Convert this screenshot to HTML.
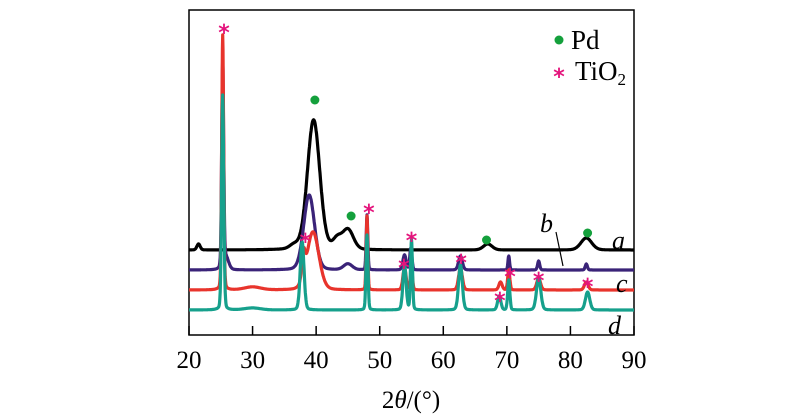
<!DOCTYPE html>
<html><head><meta charset="utf-8"><style>
html,body{margin:0;padding:0;background:#fff;}
svg{display:block;font-family:"Liberation Serif",serif;}
</style></head><body>
<svg id="chart" width="800" height="419" viewBox="0 0 800 419" xmlns="http://www.w3.org/2000/svg">
<g id="plot"></g>
</svg>
<script>
const xTicks=[20,30,40,50,60,70,80,90];
const seriesNames=["a","b","c","d"];
const seriesColors=["#000000","#3a2378","#e8342c","#16a08c"];
const baselines=[0,20,40,60];
// peaks: [position 2θ, height, width]
const peaksA=[[39.6,130,1.15],[45,20,1.0],[43.3,10,0.8],[67,6,0.8],[82.5,12,1.0],[21.5,6,0.3],[36.5,4,0.8]];
const peaksB=[[25.3,205,0.18],[38.9,75,1.0],[48,55,0.15],[54.9,22,0.2],[53.9,15,0.3],[62.7,14,0.35],[70.3,14,0.15],[75,9,0.2],[82.5,6,0.2],[45,6,0.8],[25.8,12,0.5]];
const peaksC=[[25.3,255,0.18],[39.5,58,1.1],[38,25,0.3],[48,74,0.15],[53.9,22,0.3],[55,20,0.2],[62.7,22,0.35],[69,8,0.3],[70.3,20,0.2],[75,12,0.35],[82.5,8,0.35],[30,3,1.5]];
const peaksD=[[25.3,215,0.2],[37.8,68,0.35],[48,75,0.18],[53.9,45,0.3],[55,70,0.18],[62.7,45,0.35],[68.8,14,0.3],[70.3,30,0.2],[75,32,0.4],[82.7,18,0.4],[30,2,1.5]];
const starMarks=[[25.5,28],[38.3,237],[48.3,208],[55,236],[53.8,263],[62.8,258],[70.5,272],[75,276],[82.7,282],[68.9,296]];
const dotMarks=[[39.8,100],[45.5,216],[66.8,240],[82.7,233]];

const L=189,R=634,T=10,B=335;
const x=v=>L+(v-20)/70*(R-L);
const y0=250;
const y=(v,off)=>y0+off-v;
const NS="http://www.w3.org/2000/svg";
const g=document.getElementById('plot');
function mk(tag,attrs){const e=document.createElementNS(NS,tag);for(const k in attrs)e.setAttribute(k,attrs[k]);g.appendChild(e);return e;}

const frame=mk('rect',{x:L,y:T,width:R-L,height:B-T,fill:'none',stroke:'#000','stroke-width':1.5});



xTicks.forEach(t=>{
  const tk=mk('line',{x1:x(t),x2:x(t),y1:B,y2:B-9,stroke:'#000','stroke-width':1.5});
  
  
  const lb=mk('text',{x:x(t),y:368,'text-anchor':'middle','font-size':25});
  lb.textContent=t;
  
  
});

const allPeaks=[peaksA,peaksB,peaksC,peaksD];
allPeaks.forEach((pk,i)=>{
  let d='';
  for(let s=20;s<=90.001;s+=0.05){
    let v=0;pk.forEach(p=>{const u=(s-p[0])/p[2];v+=p[1]*(0.85*Math.exp(-0.69*u*u)+0.15/(1+u*u));});
    d+=(d?'L':'M')+x(s).toFixed(1)+','+y(v,baselines[i]).toFixed(1);
  }
  const path=mk('path',{d:d,fill:'none',stroke:seriesColors[i],'stroke-width':3.2,'stroke-linejoin':'round'});
  
  
});

starMarks.forEach(m=>{
  const s=mk('text',{x:x(m[0]),y:m[1]+12,'text-anchor':'middle','font-size':22,'font-weight':'bold',fill:'#e4147c','font-family':'DejaVu Sans, sans-serif'});
  s.textContent='*';
  
  
});
dotMarks.forEach(m=>{
  const c=mk('circle',{cx:x(m[0]),cy:m[1],r:4.5,fill:'#14a03c'});
  
  
});

const ld=mk('circle',{cx:559,cy:40,r:4.5,fill:'#14a03c'});


const lt=mk('text',{x:571,y:49,'font-size':27});lt.textContent='Pd';


const ls=mk('text',{x:559,y:84,'text-anchor':'middle','font-size':22,'font-weight':'bold',fill:'#e4147c','font-family':'DejaVu Sans, sans-serif'});ls.textContent='*';


const lt2=mk('text',{x:575,y:80,'font-size':27});lt2.innerHTML='TiO<tspan font-size="17" dy="5">2</tspan>';



const labs=[["a",612,249],["b",540,232],["c",616,292],["d",608,334]];
labs.forEach(l=>{
  const t=mk('text',{x:l[1],y:l[2],'font-size':26,'font-style':'italic'});t.textContent=l[0];
  
  
});
const lead=mk('line',{x1:556,y1:232,x2:563,y2:266,stroke:'#000','stroke-width':1.2});



const xt=mk('text',{x:411,y:408,'text-anchor':'middle','font-size':25});
xt.innerHTML='2<tspan font-style="italic">θ</tspan>/(°)';


</script>
</body></html>
